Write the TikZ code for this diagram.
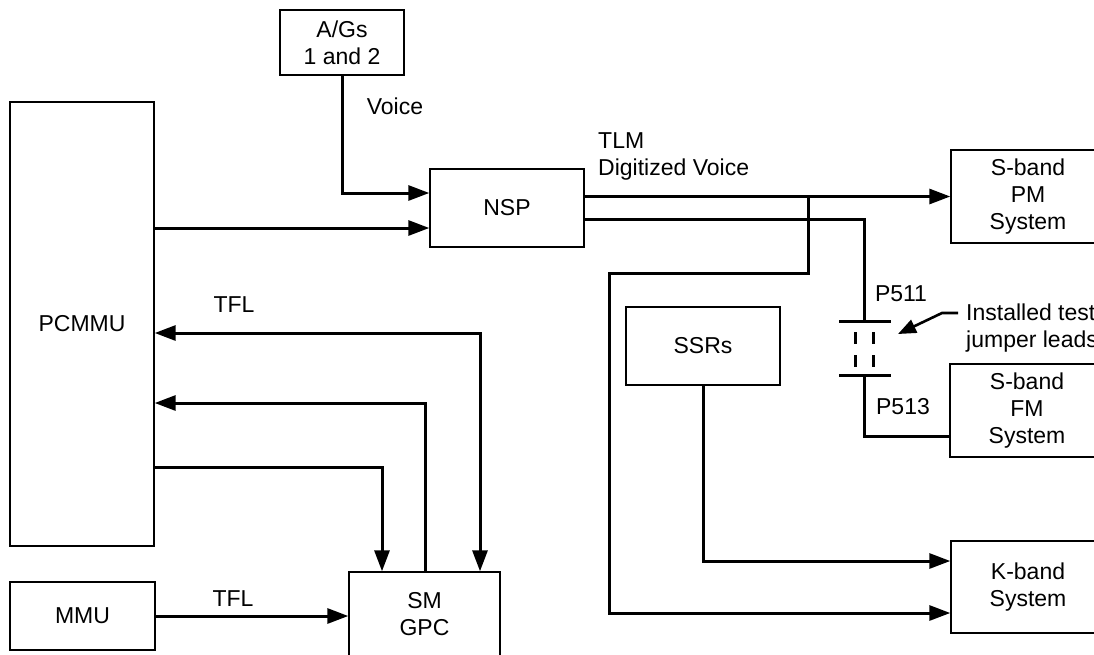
\documentclass[tikz,border=0pt]{standalone}
\usepackage{fontspec}
\setmainfont{Liberation Sans}
\usetikzlibrary{arrows.meta}
\begin{document}
\begin{tikzpicture}[x=1pt,y=-1pt,
  font=\fontsize{23}{27}\selectfont,
  box/.style={draw, line width=1.4pt, align=center, inner sep=0pt},
  lbl/.style={inner sep=0pt, align=left},
  wire/.style={line width=3pt},
  arr/.style={wire, -{Triangle[length=21pt,width=15pt]}},
  arrb/.style={wire, {Triangle[length=21pt,width=15pt]}-{Triangle[length=21pt,width=15pt]}},
  ptr/.style={line width=2.6pt, -{Triangle[length=18pt,width=14pt]}}]
\useasboundingbox (0,0) rectangle (1094,654);
% boxes
\node[box, minimum width=124pt, minimum height=65pt] (ag) at (342,42.5) {A/Gs\\1 and 2};
\node[box, minimum width=144pt, minimum height=444pt] (pcmmu) at (82,324) {PCMMU};
\node[box, minimum width=154pt, minimum height=78pt] (nsp) at (507,208) {NSP};
\node[box, minimum width=151pt, minimum height=84pt] (sm) at (424.5,614) {SM\\GPC};
\node[box, minimum width=145pt, minimum height=68pt] (mmu) at (82.5,616) {MMU};
\node[box, minimum width=154pt, minimum height=78pt] (ssrs) at (703,346) {SSRs};
\node[box, minimum width=154pt, minimum height=93pt] (spm) at (1028,196.5) {S-band\\PM\\System};
\node[box, minimum width=154pt, minimum height=93pt] (sfm) at (1027,410.5) {S-band\\FM\\System};
\node[box, minimum width=154pt, minimum height=92pt] (kband) at (1028,587) {K-band\\System};
% labels
\node[lbl] (voice) at (395,106) {Voice};
\node[lbl, anchor=west] (tlm) at (598,156) {TLM\\Digitized Voice};
\node[lbl] (tfl1) at (234,305) {TFL};
\node[lbl] (tfl2) at (233,599) {TFL};
\node[lbl] (p511) at (901,294) {P511};
\node[lbl] (p513) at (903,407) {P513};
\node[lbl, anchor=west] (note) at (966,328) {Installed test\\jumper leads};
% coordinates
\coordinate (br) at (808,197);
\coordinate (jtop) at (864,321);
\coordinate (jbot) at (864,375);
\coordinate (jump) at (898,334);
% connectors
\draw[arr] (ag.south) |- (nsp.west |- 0,193);
\draw[arr] (pcmmu.east |- 0,228) -- (nsp.west |- 0,228);
\draw[arr] (nsp.east |- spm.west) -- (spm.west);
\draw[arr] (br) -- (808,273) -- (609,273) -- (609,613) -- (kband.west |- 0,613);
\draw[wire] (nsp.east |- 0,219) -| (jtop);
\draw[wire] (839,321) -- (891,321);
\draw[wire] (839,375) -- (891,375);
\draw[wire] (855,332) -- (855,344) (873,332) -- (873,344);
\draw[wire] (855,355) -- (855,367) (873,355) -- (873,367);
\draw[wire] (jbot) |- (sfm.west |- 0,436);
\draw[arr] (ssrs.south) |- (kband.west |- 0,561);
\draw[arr] (pcmmu.east |- 0,467) -| (sm.north -| 382,0);
\draw[arr] (sm.north -| 425,0) |- (pcmmu.east |- 0,403);
\draw[arrb] (pcmmu.east |- 0,333) -| (sm.north -| 480,0);
\draw[arr] (mmu.east) -- (sm.west |- mmu.east);
\draw[ptr] (958,313) -- (942,313) -- (jump);
\end{tikzpicture}
\end{document}
